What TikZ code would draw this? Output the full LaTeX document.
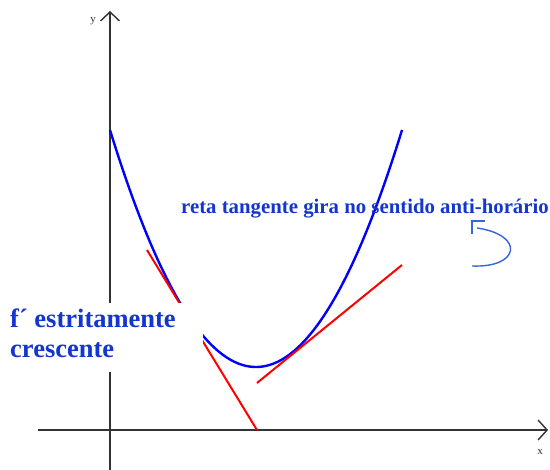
\documentclass[tikz,border=0pt]{standalone}
\usepackage{fontspec}
\setmainfont{Liberation Serif}
\usetikzlibrary{arrows.meta}
\definecolor{txtblue}{HTML}{1535D0}
\definecolor{arcblue}{HTML}{3565E0}
\definecolor{axisgray}{HTML}{333333}
\tikzset{
  axis/.style={draw=axisgray, line width=1.4pt},
  curve/.style={draw=blue, line width=2.4pt},
  tangent/.style={draw=red, line width=2pt},
  lbl/.style={text=txtblue, font=\bfseries, inner sep=0pt, anchor=base west},
  axlbl/.style={text=axisgray, font=\fontsize{11}{13}\selectfont, inner sep=0pt},
}
\begin{document}
\begin{tikzpicture}[x=1pt,y=-1pt]
\useasboundingbox[fill=white] (0,0) rectangle (550,470);
% axes
\coordinate (xs) at (38,430); \coordinate (xe) at (548,430);
\coordinate (ys) at (110,470); \coordinate (ye) at (110,11);
\draw[axis, -{Straight Barb[length=9pt,width=20pt,line width=1.4pt]}] (xs) -- (xe);
\draw[axis, -{Straight Barb[length=9pt,width=19pt,line width=1.4pt]}] (ys) -- (ye);
\node[axlbl] (ylab) at (93,21) {y};
\node[axlbl] (xlab) at (540,452) {x};
% curve
\draw[curve] plot[domain=110:402, samples=120, smooth] (\x, {367-237*((\x-256)/146)^2});
% tangents
\coordinate (t1a) at (147,250); \coordinate (t1b) at (257,430);
\coordinate (t2a) at (257,383); \coordinate (t2b) at (402,265);
\draw[tangent] (t1a) -- (t1b);
\draw[tangent] (t2a) -- (t2b);
% white box over
\fill[white] (0,303) rectangle (203,372);
\node[lbl, font=\bfseries\fontsize{26.5}{30}\selectfont] (f1) at (10,328) {f´ estritamente};
\node[lbl, font=\bfseries\fontsize{26.5}{30}\selectfont] (f2) at (10,358) {crescente};
\node[lbl, font=\bfseries\fontsize{20.8}{24}\selectfont] (top) at (181,214) {reta tangente gira no sentido anti-horário};
% rotation symbol
\draw[arcblue, line width=1.4pt] (485,221) -- (472,221) -- (472,234);
\draw[arcblue, line width=1.4pt] (477,228) .. controls (525,235) and (520,268) .. (472,266);
\end{tikzpicture}
\end{document}
